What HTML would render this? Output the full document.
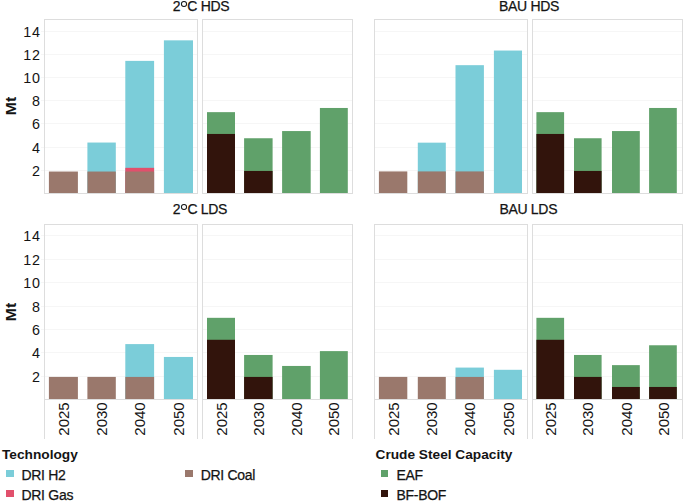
<!DOCTYPE html>
<html><head><meta charset="utf-8"><style>
html,body{margin:0;padding:0;background:#fff;}
body{width:685px;height:503px;position:relative;overflow:hidden;font-family:"Liberation Sans",sans-serif;color:#141414;-webkit-text-stroke:0.25px #141414;}
body>div,body>svg{position:absolute;}
.title{width:120px;text-align:center;font-size:14px;letter-spacing:-0.3px;line-height:16px;white-space:nowrap;}
.yl{left:0;width:40.6px;text-align:right;font-size:14.3px;letter-spacing:0.7px;line-height:16px;-webkit-text-stroke:0;}
.mt{left:1px;width:20px;height:20px;font-weight:bold;font-size:14px;line-height:20px;text-align:center;transform:rotate(-90deg) scaleX(1.12);-webkit-text-stroke:0;}
.yr{width:40px;height:16px;font-size:14.3px;line-height:16px;text-align:center;transform:rotate(-90deg) scaleX(1.05);white-space:nowrap;-webkit-text-stroke:0;}
.lt{font-weight:bold;font-size:13.7px;line-height:16px;white-space:nowrap;-webkit-text-stroke:0;}
.deg{display:inline-block;width:3.8px;height:3.6px;border:1.1px solid currentColor;border-radius:50%;margin:0 0.3px 0 1.0px;vertical-align:4.3px;}
.li{font-size:14px;letter-spacing:-0.3px;line-height:16px;white-space:nowrap;}
</style></head><body>
<svg style="left:0;top:0" width="685" height="503" viewBox="0 0 685 503">
<rect x="41" y="170" width="3" height="1" fill="#f6f6f6"/><rect x="41" y="147" width="3" height="1" fill="#f6f6f6"/><rect x="41" y="123" width="3" height="1" fill="#f6f6f6"/><rect x="41" y="100" width="3" height="1" fill="#f6f6f6"/><rect x="41" y="77" width="3" height="1" fill="#f6f6f6"/><rect x="41" y="54" width="3" height="1" fill="#f6f6f6"/><rect x="41" y="31" width="3" height="1" fill="#f6f6f6"/><rect x="45" y="170" width="152" height="1" fill="#f6f6f6"/><rect x="45" y="147" width="152" height="1" fill="#f6f6f6"/><rect x="45" y="123" width="152" height="1" fill="#f6f6f6"/><rect x="45" y="100" width="152" height="1" fill="#f6f6f6"/><rect x="45" y="77" width="152" height="1" fill="#f6f6f6"/><rect x="45" y="54" width="152" height="1" fill="#f6f6f6"/><rect x="45" y="31" width="152" height="1" fill="#f6f6f6"/><rect x="48.9" y="171.54" width="29" height="21.46" fill="#9a786c"/><rect x="87.4" y="142.54" width="28.4" height="50.46" fill="#7bcdd9"/><rect x="87.4" y="171.54" width="28.4" height="21.46" fill="#9a786c"/><rect x="125.3" y="60.88" width="28.8" height="132.12" fill="#7bcdd9"/><rect x="125.3" y="167.83" width="28.8" height="25.17" fill="#e1506c"/><rect x="125.3" y="171.54" width="28.8" height="21.46" fill="#9a786c"/><rect x="163.9" y="40.34" width="29.1" height="152.66" fill="#7bcdd9"/><rect x="44" y="19" width="154" height="1" fill="#dddddd"/><rect x="44" y="193" width="154" height="1" fill="#dddddd"/><rect x="44" y="19" width="1" height="174" fill="#dddddd"/><rect x="197" y="19" width="1" height="174" fill="#dddddd"/><rect x="203" y="170" width="149" height="1" fill="#f6f6f6"/><rect x="203" y="147" width="149" height="1" fill="#f6f6f6"/><rect x="203" y="123" width="149" height="1" fill="#f6f6f6"/><rect x="203" y="100" width="149" height="1" fill="#f6f6f6"/><rect x="203" y="77" width="149" height="1" fill="#f6f6f6"/><rect x="203" y="54" width="149" height="1" fill="#f6f6f6"/><rect x="203" y="31" width="149" height="1" fill="#f6f6f6"/><rect x="207" y="112.15" width="28" height="80.85" fill="#60a16a"/><rect x="207" y="133.96" width="28" height="59.04" fill="#32140c"/><rect x="244.1" y="138.25" width="28.5" height="54.75" fill="#60a16a"/><rect x="244.1" y="170.96" width="28.5" height="22.04" fill="#32140c"/><rect x="282.1" y="131.06" width="28.6" height="61.94" fill="#60a16a"/><rect x="319.9" y="107.97" width="27.9" height="85.03" fill="#60a16a"/><rect x="202" y="19" width="151" height="1" fill="#dddddd"/><rect x="202" y="193" width="151" height="1" fill="#dddddd"/><rect x="202" y="19" width="1" height="174" fill="#dddddd"/><rect x="352" y="19" width="1" height="174" fill="#dddddd"/><rect x="375" y="170" width="152" height="1" fill="#f6f6f6"/><rect x="375" y="147" width="152" height="1" fill="#f6f6f6"/><rect x="375" y="123" width="152" height="1" fill="#f6f6f6"/><rect x="375" y="100" width="152" height="1" fill="#f6f6f6"/><rect x="375" y="77" width="152" height="1" fill="#f6f6f6"/><rect x="375" y="54" width="152" height="1" fill="#f6f6f6"/><rect x="375" y="31" width="152" height="1" fill="#f6f6f6"/><rect x="378.9" y="171.42" width="28.4" height="21.58" fill="#9a786c"/><rect x="417.8" y="142.66" width="28" height="50.34" fill="#7bcdd9"/><rect x="417.8" y="171.42" width="28" height="21.58" fill="#9a786c"/><rect x="455.5" y="65.17" width="28.4" height="127.83" fill="#7bcdd9"/><rect x="455.5" y="171.42" width="28.4" height="21.58" fill="#9a786c"/><rect x="493.9" y="50.55" width="28.1" height="142.45" fill="#7bcdd9"/><rect x="374" y="19" width="154" height="1" fill="#dddddd"/><rect x="374" y="193" width="154" height="1" fill="#dddddd"/><rect x="374" y="19" width="1" height="174" fill="#dddddd"/><rect x="527" y="19" width="1" height="174" fill="#dddddd"/><rect x="533" y="170" width="149" height="1" fill="#f6f6f6"/><rect x="533" y="147" width="149" height="1" fill="#f6f6f6"/><rect x="533" y="123" width="149" height="1" fill="#f6f6f6"/><rect x="533" y="100" width="149" height="1" fill="#f6f6f6"/><rect x="533" y="77" width="149" height="1" fill="#f6f6f6"/><rect x="533" y="54" width="149" height="1" fill="#f6f6f6"/><rect x="533" y="31" width="149" height="1" fill="#f6f6f6"/><rect x="536.4" y="112.15" width="27.7" height="80.85" fill="#60a16a"/><rect x="536.4" y="133.96" width="27.7" height="59.04" fill="#32140c"/><rect x="574" y="138.25" width="27.6" height="54.75" fill="#60a16a"/><rect x="574" y="170.96" width="27.6" height="22.04" fill="#32140c"/><rect x="612" y="131.06" width="27.8" height="61.94" fill="#60a16a"/><rect x="649.1" y="107.97" width="27.7" height="85.03" fill="#60a16a"/><rect x="532" y="19" width="151" height="1" fill="#dddddd"/><rect x="532" y="193" width="151" height="1" fill="#dddddd"/><rect x="532" y="19" width="1" height="174" fill="#dddddd"/><rect x="682" y="19" width="1" height="174" fill="#dddddd"/><rect x="41" y="376" width="3" height="1" fill="#f6f6f6"/><rect x="41" y="352" width="3" height="1" fill="#f6f6f6"/><rect x="41" y="329" width="3" height="1" fill="#f6f6f6"/><rect x="41" y="306" width="3" height="1" fill="#f6f6f6"/><rect x="41" y="282" width="3" height="1" fill="#f6f6f6"/><rect x="41" y="259" width="3" height="1" fill="#f6f6f6"/><rect x="41" y="235" width="3" height="1" fill="#f6f6f6"/><rect x="45" y="376" width="152" height="1" fill="#f6f6f6"/><rect x="45" y="352" width="152" height="1" fill="#f6f6f6"/><rect x="45" y="329" width="152" height="1" fill="#f6f6f6"/><rect x="45" y="306" width="152" height="1" fill="#f6f6f6"/><rect x="45" y="282" width="152" height="1" fill="#f6f6f6"/><rect x="45" y="259" width="152" height="1" fill="#f6f6f6"/><rect x="45" y="235" width="152" height="1" fill="#f6f6f6"/><rect x="48.9" y="376.92" width="29" height="22.08" fill="#9a786c"/><rect x="87.4" y="376.92" width="28.4" height="22.08" fill="#9a786c"/><rect x="125.3" y="344.1" width="28.8" height="54.9" fill="#7bcdd9"/><rect x="125.3" y="376.92" width="28.8" height="22.08" fill="#9a786c"/><rect x="163.9" y="356.95" width="29.1" height="42.05" fill="#7bcdd9"/><rect x="44" y="224" width="154" height="1" fill="#dddddd"/><rect x="44" y="399" width="154" height="1" fill="#dddddd"/><rect x="44" y="224" width="1" height="175" fill="#dddddd"/><rect x="197" y="224" width="1" height="175" fill="#dddddd"/><rect x="44" y="399" width="1" height="40" fill="#dddddd"/><rect x="197" y="399" width="1" height="40" fill="#dddddd"/><rect x="203" y="376" width="149" height="1" fill="#f6f6f6"/><rect x="203" y="352" width="149" height="1" fill="#f6f6f6"/><rect x="203" y="329" width="149" height="1" fill="#f6f6f6"/><rect x="203" y="306" width="149" height="1" fill="#f6f6f6"/><rect x="203" y="282" width="149" height="1" fill="#f6f6f6"/><rect x="203" y="259" width="149" height="1" fill="#f6f6f6"/><rect x="203" y="235" width="149" height="1" fill="#f6f6f6"/><rect x="207" y="317.82" width="28" height="81.18" fill="#60a16a"/><rect x="207" y="339.78" width="28" height="59.22" fill="#32140c"/><rect x="244.1" y="354.97" width="28.5" height="44.03" fill="#60a16a"/><rect x="244.1" y="376.92" width="28.5" height="22.08" fill="#32140c"/><rect x="282.1" y="365.95" width="28.6" height="33.05" fill="#60a16a"/><rect x="319.9" y="351.11" width="27.9" height="47.89" fill="#60a16a"/><rect x="202" y="224" width="151" height="1" fill="#dddddd"/><rect x="202" y="399" width="151" height="1" fill="#dddddd"/><rect x="202" y="224" width="1" height="175" fill="#dddddd"/><rect x="352" y="224" width="1" height="175" fill="#dddddd"/><rect x="202" y="399" width="1" height="40" fill="#dddddd"/><rect x="352" y="399" width="1" height="40" fill="#dddddd"/><rect x="375" y="376" width="152" height="1" fill="#f6f6f6"/><rect x="375" y="352" width="152" height="1" fill="#f6f6f6"/><rect x="375" y="329" width="152" height="1" fill="#f6f6f6"/><rect x="375" y="306" width="152" height="1" fill="#f6f6f6"/><rect x="375" y="282" width="152" height="1" fill="#f6f6f6"/><rect x="375" y="259" width="152" height="1" fill="#f6f6f6"/><rect x="375" y="235" width="152" height="1" fill="#f6f6f6"/><rect x="378.9" y="376.92" width="28.4" height="22.08" fill="#9a786c"/><rect x="417.8" y="376.92" width="28" height="22.08" fill="#9a786c"/><rect x="455.5" y="367.58" width="28.4" height="31.42" fill="#7bcdd9"/><rect x="455.5" y="376.92" width="28.4" height="22.08" fill="#9a786c"/><rect x="493.9" y="369.8" width="28.1" height="29.2" fill="#7bcdd9"/><rect x="374" y="224" width="154" height="1" fill="#dddddd"/><rect x="374" y="399" width="154" height="1" fill="#dddddd"/><rect x="374" y="224" width="1" height="175" fill="#dddddd"/><rect x="527" y="224" width="1" height="175" fill="#dddddd"/><rect x="374" y="399" width="1" height="40" fill="#dddddd"/><rect x="527" y="399" width="1" height="40" fill="#dddddd"/><rect x="533" y="376" width="149" height="1" fill="#f6f6f6"/><rect x="533" y="352" width="149" height="1" fill="#f6f6f6"/><rect x="533" y="329" width="149" height="1" fill="#f6f6f6"/><rect x="533" y="306" width="149" height="1" fill="#f6f6f6"/><rect x="533" y="282" width="149" height="1" fill="#f6f6f6"/><rect x="533" y="259" width="149" height="1" fill="#f6f6f6"/><rect x="533" y="235" width="149" height="1" fill="#f6f6f6"/><rect x="536.4" y="317.82" width="27.7" height="81.18" fill="#60a16a"/><rect x="536.4" y="339.78" width="27.7" height="59.22" fill="#32140c"/><rect x="574" y="354.97" width="27.6" height="44.03" fill="#60a16a"/><rect x="574" y="376.92" width="27.6" height="22.08" fill="#32140c"/><rect x="612" y="365.13" width="27.8" height="33.87" fill="#60a16a"/><rect x="612" y="386.97" width="27.8" height="12.03" fill="#32140c"/><rect x="649.1" y="345.27" width="27.7" height="53.73" fill="#60a16a"/><rect x="649.1" y="386.97" width="27.7" height="12.03" fill="#32140c"/><rect x="532" y="224" width="151" height="1" fill="#dddddd"/><rect x="532" y="399" width="151" height="1" fill="#dddddd"/><rect x="532" y="224" width="1" height="175" fill="#dddddd"/><rect x="682" y="224" width="1" height="175" fill="#dddddd"/><rect x="532" y="399" width="1" height="40" fill="#dddddd"/><rect x="682" y="399" width="1" height="40" fill="#dddddd"/>
</svg>
<div class="yl" style="top:162.8px">2</div><div class="yl" style="top:139.8px">4</div><div class="yl" style="top:115.8px">6</div><div class="yl" style="top:92.8px">8</div><div class="yl" style="top:69.8px">10</div><div class="yl" style="top:46.8px">12</div><div class="yl" style="top:23.8px">14</div><div class="mt" style="top:96.0px">Mt</div><div class="title" style="left:141px;top:-1.9000000000000001px">2<span class="deg"></span>C HDS</div><div class="title" style="left:469px;top:-1.9000000000000001px">BAU HDS</div><div class="yl" style="top:368.8px">2</div><div class="yl" style="top:344.8px">4</div><div class="yl" style="top:321.8px">6</div><div class="yl" style="top:298.8px">8</div><div class="yl" style="top:274.8px">10</div><div class="yl" style="top:251.8px">12</div><div class="yl" style="top:227.8px">14</div><div class="mt" style="top:301.5px">Mt</div><div class="title" style="left:140px;top:201.0px">2<span class="deg"></span>C LDS</div><div class="yr" style="left:44px;top:411px">2025</div><div class="yr" style="left:82.2px;top:411px">2030</div><div class="yr" style="left:120.3px;top:411px">2040</div><div class="yr" style="left:159.05px;top:411px">2050</div><div class="yr" style="left:201.6px;top:411px">2025</div><div class="yr" style="left:238.95px;top:411px">2030</div><div class="yr" style="left:277px;top:411px">2040</div><div class="yr" style="left:314.45px;top:411px">2050</div><div class="title" style="left:468.29999999999995px;top:201.0px">BAU LDS</div><div class="yr" style="left:373.7px;top:411px">2025</div><div class="yr" style="left:412.4px;top:411px">2030</div><div class="yr" style="left:450.3px;top:411px">2040</div><div class="yr" style="left:488.55px;top:411px">2050</div><div class="yr" style="left:530.85px;top:411px">2025</div><div class="yr" style="left:568.4px;top:411px">2030</div><div class="yr" style="left:606.5px;top:411px">2040</div><div class="yr" style="left:643.55px;top:411px">2050</div><div class="lt" style="left:2px;top:446.95px">Technology</div><div class="lt" style="left:375.5px;top:446.95px">Crude Steel Capacity</div><div style="left:6px;top:470px;width:8px;height:7px;background:#7bcdd9;"></div><div class="li" style="left:21.5px;top:466.85px">DRI H2</div><div style="left:6px;top:490px;width:8px;height:7px;background:#e1506c;"></div><div class="li" style="left:21.5px;top:486.75px">DRI Gas</div><div style="left:185px;top:470px;width:8px;height:7px;background:#9a786c;"></div><div class="li" style="left:200.7px;top:466.85px">DRI Coal</div><div style="left:381px;top:470px;width:7px;height:7px;background:#60a16a;"></div><div class="li" style="left:396.5px;top:466.85px">EAF</div><div style="left:381px;top:490px;width:7px;height:7px;background:#32140c;"></div><div class="li" style="left:396.5px;top:486.75px">BF-BOF</div>
</body></html>
